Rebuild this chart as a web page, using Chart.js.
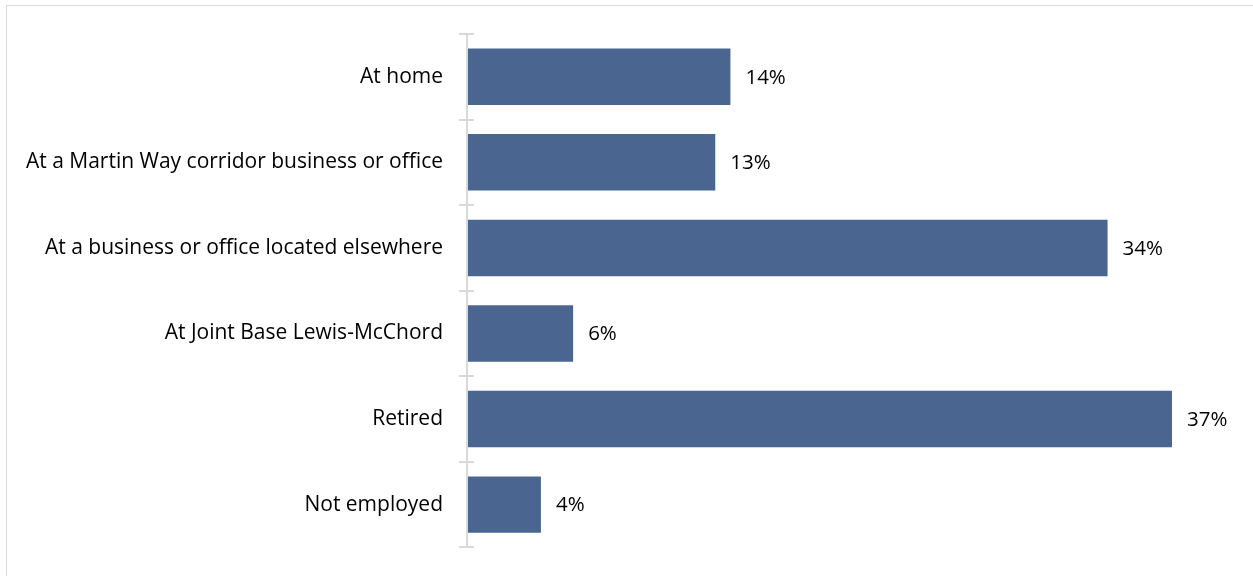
<!DOCTYPE html>
<html>
<head>
<meta charset="utf-8">
<script src="https://cdn.jsdelivr.net/npm/chart.js@4"></script>
<style>
  html, body { margin: 0; padding: 0; background: #fff; overflow: hidden; }
  #frame { position: absolute; left: 6px; top: 5px; width: 1300px; height: 620px;
           border: 1.5px solid #d9d9d9; }
  #wrap { position: absolute; left: 0; top: 0; width: 1253px; height: 576px; }
</style>
</head>
<body>
<div id="frame"></div>
<div id="wrap"><canvas id="workChart"></canvas></div>
<script>
// Where respondents work
const categories = [
  "At home",
  "At a Martin Way corridor business or office",
  "At a business or office located elsewhere",
  "At Joint Base Lewis-McChord",
  "Retired",
  "Not employed"
];
const shares = [13.9, 13.1, 33.8, 5.6, 37.2, 3.9];   // percent
const shareLabels = ["14%", "13%", "34%", "6%", "37%", "4%"];

const labelFont = "'Open Sans', sans-serif";

// value labels at the end of each bar
const barLabels = {
  id: "barLabels",
  afterDatasetsDraw(chart) {
    const ctx = chart.ctx;
    const meta = chart.getDatasetMeta(0);
    ctx.save();
    ctx.font = "20.5px " + labelFont;
    ctx.fillStyle = "#000";
    ctx.textBaseline = "middle";
    meta.data.forEach((bar, i) => {
      ctx.fillText(shareLabels[i], bar.x + 15, bar.y + 1);
    });
    ctx.restore();
  }
};

// tick marks crossing the category axis
const crossTicks = {
  id: "crossTicks",
  afterDraw(chart) {
    const y = chart.scales.y;
    const ctx = chart.ctx;
    const x0 = chart.chartArea.left;
    ctx.save();
    ctx.strokeStyle = "#d9d9d9";
    ctx.lineWidth = 2;
    ctx.beginPath();
    for (let i = 0; i <= categories.length; i++) {
      const yy = Math.round(y.top + i * (y.bottom - y.top) / categories.length);
      ctx.moveTo(x0 - 8, yy);
      ctx.lineTo(x0 + 7, yy);
    }
    ctx.moveTo(x0, y.top);
    ctx.lineTo(x0, y.bottom);
    ctx.stroke();
    ctx.restore();
  }
};

new Chart(document.getElementById("workChart"), {
  type: "bar",
  data: {
    labels: categories,
    datasets: [{
      data: shares,
      backgroundColor: "#4a6690",
      barPercentage: 0.66,
      categoryPercentage: 1.0
    }]
  },
  options: {
    indexAxis: "y",
    responsive: true,
    maintainAspectRatio: false,
    animation: false,
    layout: { padding: { top: 34, bottom: 9, left: 0, right: 9 } },
    plugins: { legend: { display: false }, tooltip: { enabled: false } },
    scales: {
      x: {
        display: false,
        min: 0,
        max: 41
      },
      y: {
        afterFit(scale) { scale.width = 467; },
        border: { display: false },
        grid: { display: false },
        ticks: {
          color: "#000",
          padding: 16,
          font: { family: labelFont, size: 21 }
        }
      }
    }
  },
  plugins: [barLabels, crossTicks]
});
</script>
</body>
</html>
